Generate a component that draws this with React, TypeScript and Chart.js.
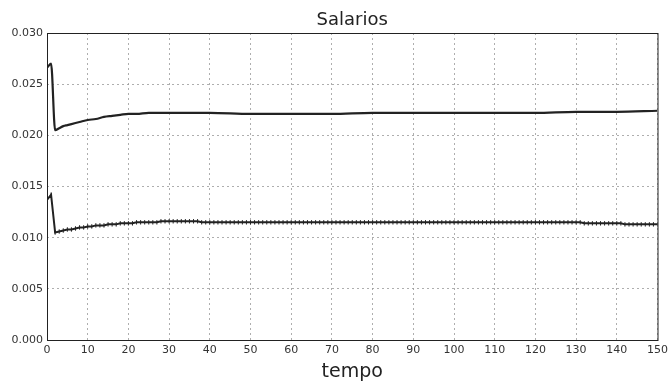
import React, { useEffect, useRef } from "react";
import { Chart, registerables } from "chart.js";

Chart.register(...registerables);

const chartTitle = "Salarios";
const xAxisTitle = "tempo";
const yTicks = [0, 0.005, 0.01, 0.015, 0.02, 0.025, 0.03];
const xTickStep = 10;

const upperX = [0, 1, 2, 3, 4, 5, 6, 7, 8, 10, 12, 14, 16, 18, 20, 22, 25, 30, 40, 50, 60, 70, 80, 90, 100, 110, 120, 130, 140, 150];
const upperY = [0.0266, 0.027, 0.0205, 0.0207, 0.0209, 0.021, 0.0211, 0.0212, 0.0213, 0.0215, 0.0216, 0.0218, 0.0219, 0.022, 0.0221, 0.0221, 0.0222, 0.0222, 0.0222, 0.0221, 0.0221, 0.0221, 0.0222, 0.0222, 0.0222, 0.0222, 0.0222, 0.0223, 0.0223, 0.0224];

const lowerY = [
  0.0137, 0.0142, 0.0105, 0.0106, 0.0107, 0.0108, 0.0108, 0.0109, 0.011, 0.011,
  0.0111, 0.0111, 0.0112, 0.0112, 0.0112, 0.0113, 0.0113, 0.0113, 0.0114, 0.0114,
  0.0114, 0.0114, 0.0115, 0.0115, 0.0115, 0.0115, 0.0115, 0.0115, 0.0116, 0.0116,
  0.0116, 0.0116, 0.0116, 0.0116, 0.0116, 0.0116, 0.0116, 0.0116, 0.0115, 0.0115,
  0.0115, 0.0115, 0.0115, 0.0115, 0.0115, 0.0115, 0.0115, 0.0115, 0.0115, 0.0115,
  0.0115, 0.0115, 0.0115, 0.0115, 0.0115, 0.0115, 0.0115, 0.0115, 0.0115, 0.0115,
  0.0115, 0.0115, 0.0115, 0.0115, 0.0115, 0.0115, 0.0115, 0.0115, 0.0115, 0.0115,
  0.0115, 0.0115, 0.0115, 0.0115, 0.0115, 0.0115, 0.0115, 0.0115, 0.0115, 0.0115,
  0.0115, 0.0115, 0.0115, 0.0115, 0.0115, 0.0115, 0.0115, 0.0115, 0.0115, 0.0115,
  0.0115, 0.0115, 0.0115, 0.0115, 0.0115, 0.0115, 0.0115, 0.0115, 0.0115, 0.0115,
  0.0115, 0.0115, 0.0115, 0.0115, 0.0115, 0.0115, 0.0115, 0.0115, 0.0115, 0.0115,
  0.0115, 0.0115, 0.0115, 0.0115, 0.0115, 0.0115, 0.0115, 0.0115, 0.0115, 0.0115,
  0.0115, 0.0115, 0.0115, 0.0115, 0.0115, 0.0115, 0.0115, 0.0115, 0.0115, 0.0115,
  0.0115, 0.0115, 0.0114, 0.0114, 0.0114, 0.0114, 0.0114, 0.0114, 0.0114, 0.0114,
  0.0114, 0.0114, 0.0113, 0.0113, 0.0113, 0.0113, 0.0113, 0.0113, 0.0113, 0.0113,
  0.0113,
];

const FONT = "'DejaVu Sans', sans-serif";

const framePlugin = {
  id: "frame",
  afterDraw(chart: any) {
    const { ctx, chartArea } = chart;
    ctx.save();
    ctx.strokeStyle = "#222";
    ctx.lineWidth = 1;
    ctx.strokeRect(chartArea.left + 0.5, chartArea.top + 0.5, chartArea.right - chartArea.left, chartArea.bottom - chartArea.top);
    const cx = (chartArea.left + chartArea.right) / 2;
    ctx.fillStyle = "#222";
    ctx.textAlign = "center";
    ctx.textBaseline = "middle";
    ctx.font = `18px ${FONT}`;
    ctx.fillText(chartTitle, cx, 20);
    ctx.font = `19px ${FONT}`;
    ctx.fillText(xAxisTitle, cx, 372);
    ctx.restore();
  },
};

export default function App() {
  const ref = useRef<HTMLCanvasElement>(null);
  useEffect(() => {
    const canvas = ref.current!;
    const chart = new Chart(canvas, {
      type: "line",
      data: {
        datasets: [
          {
            data: upperX.map((x, i) => ({ x, y: upperY[i] })),
            borderColor: "#222",
            borderWidth: 2.2,
            pointRadius: 0,
            cubicInterpolationMode: "monotone",
          },
          {
            data: lowerY.map((y, i) => ({ x: i, y })),
            borderColor: "#222",
            borderWidth: 2,
            pointRadius: 2.2,
            pointStyle: "line",
            rotation: 90,
            pointBorderColor: "#222",
            pointBorderWidth: 1,
            tension: 0,
          } as any,
        ],
      },
      options: {
        animation: false,
        responsive: false,
        layout: { padding: { top: 33, right: 13, left: 0, bottom: 0 } },
        plugins: { legend: { display: false }, tooltip: { enabled: false }, title: { display: false } },
        scales: {
          x: {
            type: "linear",
            min: 0,
            max: 150,
            ticks: { stepSize: xTickStep, color: "#333", font: { family: FONT, size: 11 }, padding: 4, maxRotation: 0 },
            grid: { color: "#999", lineWidth: 0.8, drawTicks: false },
            border: { display: false, dash: [2, 3] },
            afterFit: (s: any) => { s.height = 43; },
          },
          y: {
            min: 0,
            max: 0.03,
            afterBuildTicks: (s: any) => { s.ticks = yTicks.map((v) => ({ value: v })); },
            ticks: { color: "#333", font: { family: FONT, size: 11 }, padding: 4, callback: (v: any) => Number(v).toFixed(3) },
            grid: { color: "#999", lineWidth: 0.8, drawTicks: false },
            border: { display: false, dash: [2, 3] },
            afterFit: (s: any) => { s.width = 47; },
          },
        },
      },
      plugins: [framePlugin],
    });
    return () => chart.destroy();
  }, []);
  return (
    <div style={{ position: "fixed", left: 0, top: 0, width: 672, height: 383, background: "#fff" }}>
      <canvas ref={ref} width={672} height={383} style={{ width: 672, height: 383 }} />
    </div>
  );
}
